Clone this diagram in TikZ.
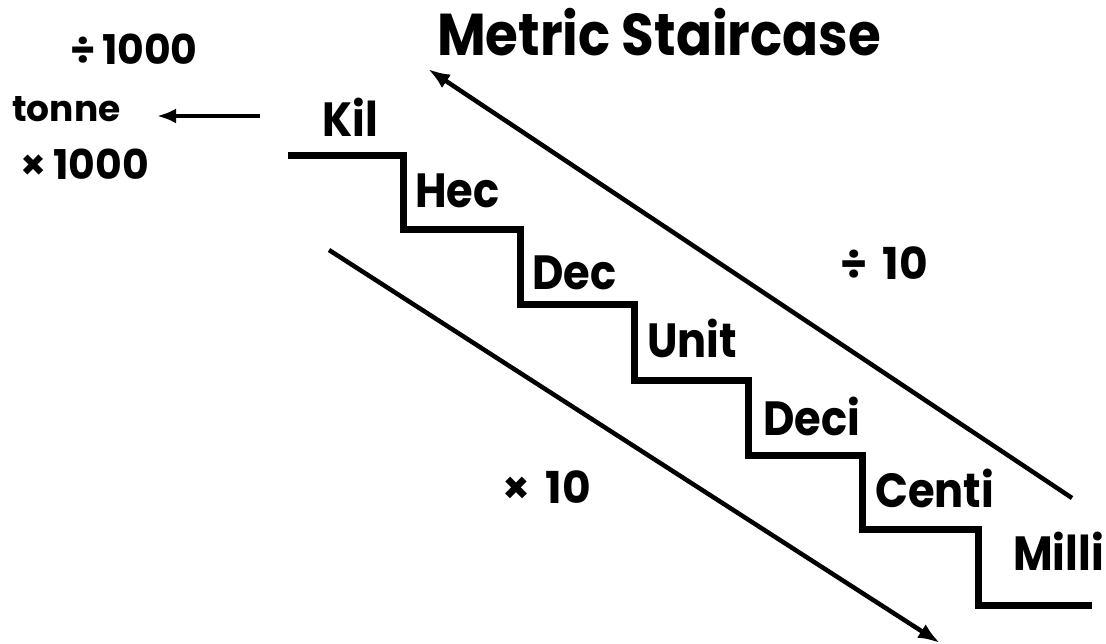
\documentclass[tikz,border=0pt]{standalone}
\usepackage{fontspec}
\setmainfont{Poppins}
\newfontfamily\stairfont[FakeStretch=0.9]{Poppins}
\usepackage{tikz}
\usetikzlibrary{arrows.meta,positioning}

\begin{document}
\begin{tikzpicture}[x=1pt,y=-1pt,
 lbl/.style={anchor=base west,inner sep=0pt,font=\stairfont\bfseries\fontsize{48}{48}\selectfont},
 side/.style={anchor=base west,inner sep=0pt,font=\bfseries\fontsize{41}{41}\selectfont},
 ten/.style={side,font=\bfseries\fontsize{44}{44}\selectfont},
 stair/.style={line width=7pt,line join=miter},
 arr/.style={-{Latex[length=22pt,width=16pt]},line width=4.5pt}]
 \useasboundingbox (0,0) rectangle (1106,644);
 % title
 \node[anchor=base,inner sep=0pt,font=\stairfont\bfseries\fontsize{59}{59}\selectfont] (title) at (659,56) {Metric Staircase};
 % tonne side
 \node[side] (div1000) at (70,65) {÷\,1000};
 \node[side,font=\bfseries\fontsize{36}{36}\selectfont] (tonne) at (12,122) {tonne};
 \node[side] (mul1000) at (20,180) {×\,1000};
 \coordinate (tonR) at (260,116);
 \coordinate (tonL) at (157,116);
 \draw[arr,-{Latex[length=19pt,width=15pt]}] (tonR) -- (tonL);
 % the steps
 \draw[stair] (288,156) -| (403,230) -| (520,305) -| (634,380) -| (748,455)
   -| (862,529) -| (978,605) -- (1092,605);
 \node[lbl] (kil) at (322,137) {Kil};
 \node[lbl] (hec) at (415,208) {Hec};
 \node[lbl] (dec) at (532,290) {Dec};
 \node[lbl] (unit) at (647,358) {Unit};
 \node[lbl] (deci) at (763,435) {Deci};
 \node[lbl] (centi) at (875,507) {Centi};
 \node[lbl] (milli) at (1013,570) {Milli};
 % up and down
 \coordinate (upS) at (1072,498);
 \coordinate (upE) at (428,69);
 \coordinate (dnS) at (329,250);
 \coordinate (dnE) at (940,643);
 \draw[arr] (upS) -- (upE);
 \draw[arr] (dnS) -- (dnE);
 \node[ten] (div10) at (840,280) {÷\hspace{0.35em}10};
 \node[ten] (mul10) at (502,503) {×\hspace{0.35em}10};
\end{tikzpicture}
\end{document}
